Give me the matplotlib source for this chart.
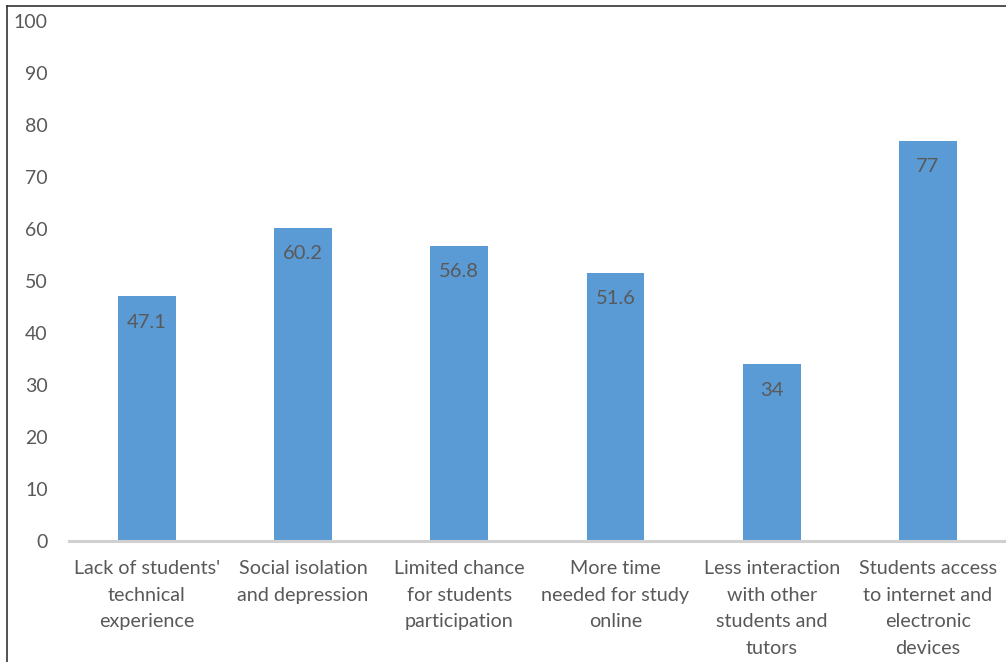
import matplotlib.pyplot as plt
from matplotlib.lines import Line2D

categories = ["Lack of students'\ntechnical\nexperience",
              "Social isolation\nand depression",
              "Limited chance\nfor students\nparticipation",
              "More time\nneeded for study\nonline",
              "Less interaction\nwith other\nstudents and\ntutors",
              "Students access\nto internet and\nelectronic\ndevices"]
values = [47.1, 60.2, 56.8, 51.6, 34, 77]
value_labels = ["47.1", "60.2", "56.8", "51.6", "34", "77"]
yticks = [0, 10, 20, 30, 40, 50, 60, 70, 80, 90, 100]

plt.rcParams['font.family'] = ['Lato', 'DejaVu Sans']

fig = plt.figure(figsize=(10.06, 6.62), dpi=100)
ax = fig.add_axes([0.0683, 0.1828, 0.9317, 0.7855])

x = range(len(values))
bars = ax.bar(x, values, width=0.37, color='#5b9bd5', zorder=2)

for b, lab in zip(bars, value_labels):
    ax.annotate(lab, (b.get_x() + b.get_width() / 2, b.get_height()),
                xytext=(0, -26), textcoords='offset pixels',
                ha='center', va='center', fontsize=14.5, color='#595959')

ax.set_xlim(-0.5, len(values) - 0.5)
ax.set_ylim(0, 100)
ax.set_yticks(yticks)
ax.set_xticks(list(x))
ax.set_xticklabels(categories, fontsize=14.2, color='#595959', linespacing=1.68)
ax.tick_params(axis='y', length=0, pad=15, labelsize=14, labelcolor='#595959')
ax.tick_params(axis='x', length=0, pad=14)

for s in ['top', 'right', 'left']:
    ax.spines[s].set_visible(False)
ax.spines['bottom'].set_color('#d0d0d0')
ax.spines['bottom'].set_linewidth(2.2)
ax.spines['bottom'].set_zorder(3)

# outer frame (left and top edges)
fig.add_artist(Line2D([7 / 1006, 7 / 1006], [0, 1 - 6 / 662], color='#333333', lw=1.2))
fig.add_artist(Line2D([7 / 1006, 1], [1 - 6 / 662, 1 - 6 / 662], color='#333333', lw=1.2))

fig.savefig('out.png', dpi=100)
